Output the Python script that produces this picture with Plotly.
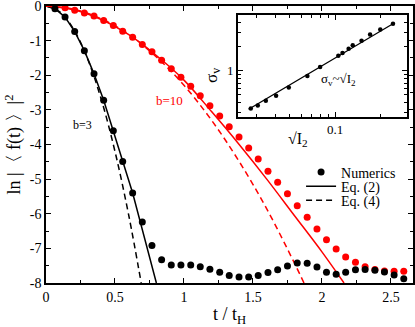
import plotly.graph_objects as go

# main panel: numerics for b=3 (black) and b=10 (red)
t_num = [0.065, 0.138, 0.208, 0.278, 0.348, 0.418, 0.488, 0.556, 0.628, 0.698,
         0.768, 0.838, 0.908, 0.978, 1.049, 1.118, 1.188, 1.259, 1.328, 1.399,
         1.469, 1.538, 1.609, 1.679, 1.750, 1.821, 1.893, 1.964, 2.033, 2.103,
         2.172, 2.243, 2.313, 2.384, 2.453, 2.523, 2.593]
b3_num = [-0.08, -0.32, -0.74, -1.29, -1.96, -2.72, -3.60, -4.49, -5.40, -6.24,
          -6.92, -7.33, -7.48, -7.48, -7.48, -7.53, -7.60, -7.69, -7.78, -7.83,
          -7.83, -7.78, -7.70, -7.62, -7.51, -7.42, -7.43, -7.54, -7.69, -7.75,
          -7.69, -7.62, -7.61, -7.63, -7.68, -7.77, -7.88]
b10_num = [0.01, -0.05, -0.12, -0.20, -0.29, -0.42, -0.56, -0.73, -0.90, -1.11,
           -1.32, -1.57, -1.81, -2.06, -2.32, -2.59, -2.88, -3.18, -3.49, -3.78,
           -4.10, -4.42, -4.77, -5.09, -5.42, -5.77, -6.10, -6.44, -6.75, -7.02,
           -7.25, -7.40, -7.53, -7.61, -7.65, -7.66, -7.66]

# Eq. (2) and Eq. (4) curves
t_b3_eq2 = [0, 0.065, 0.138, 0.208, 0.278, 0.348, 0.418, 0.488, 0.556, 0.628, 0.80]
y_b3_eq2 = [0, -0.08, -0.32, -0.74, -1.29, -1.96, -2.72, -3.60, -4.49, -5.40, -8.0]
t_b3_eq4 = [0, 0.1, 0.2, 0.3, 0.4, 0.5, 0.6, 0.69]
y_b3_eq4 = [0, -0.17, -0.67, -1.51, -2.69, -4.2, -6.05, -8.0]
t_b10_eq2 = [0, 0.2, 0.4, 0.6, 0.8, 1.0, 1.2, 1.4, 1.6, 1.8, 2.0, 2.16]
y_b10_eq2 = [0, -0.11, -0.39, -0.83, -1.43, -2.14, -3.05, -4.0, -5.0, -6.05, -7.1, -8.0]
t_b10_eq4 = [0, 0.2, 0.4, 0.6, 0.8, 1.0, 1.2, 1.4, 1.6, 1.8, 1.87]
y_b10_eq4 = [0, -0.09, -0.37, -0.82, -1.47, -2.29, -3.30, -4.49, -5.86, -7.42, -8.0]

x_ticks = [0, 0.5, 1, 1.5, 2, 2.5]
x_ticktext = ["0", "0.5", "1", "1.5", "2", "2.5"]
y_ticks = [0, -1, -2, -3, -4, -5, -6, -7, -8]
y_ticktext = ["0", "-1", "-2", "-3", "-4", "-5", "-6", "-7", "-8"]

# inset: sigma_v vs sqrt(I2)
sqrt_i2 = [0.0274, 0.0305, 0.0345, 0.0404, 0.0491, 0.0653, 0.0794, 0.105,
           0.112, 0.123, 0.131, 0.150, 0.171, 0.200, 0.243]
sigma_v = [0.338, 0.368, 0.422, 0.487, 0.618, 0.859, 1.11, 1.53,
           1.66, 1.87, 2.07, 2.35, 2.82, 3.25, 3.84]
fit_x = [0.0265, 0.243]
fit_y = [0.33, 3.84]

FONT = "Liberation Serif, Times New Roman, serif"
RED = "#ff0000"

fig = go.Figure()

# curves
fig.add_trace(go.Scatter(x=t_b3_eq2, y=y_b3_eq2, mode="lines", line=dict(color="black", width=1.5),
                         showlegend=False))
fig.add_trace(go.Scatter(x=t_b3_eq4, y=y_b3_eq4, mode="lines", line=dict(color="black", width=1.5, dash="6px,4px"),
                         line_shape="spline", showlegend=False))
fig.add_trace(go.Scatter(x=t_b10_eq2, y=y_b10_eq2, mode="lines", line=dict(color=RED, width=1.5),
                         line_shape="spline", showlegend=False))
fig.add_trace(go.Scatter(x=t_b10_eq4, y=y_b10_eq4, mode="lines", line=dict(color=RED, width=1.5, dash="6px,4px"),
                         line_shape="spline", showlegend=False))
fig.add_trace(go.Scatter(x=t_num, y=b10_num, mode="markers", marker=dict(color=RED, size=7),
                         cliponaxis=False, showlegend=False))
fig.add_trace(go.Scatter(x=t_num, y=b3_num, mode="markers", marker=dict(color="black", size=7),
                         cliponaxis=False, showlegend=False))

# legend entries (black samples)
fig.add_trace(go.Scatter(x=[None], y=[None], mode="markers", marker=dict(color="black", size=7),
                         name="Numerics", legend="legend"))
fig.add_trace(go.Scatter(x=[None], y=[None], mode="lines", line=dict(color="black", width=1.5),
                         name="Eq. (2)", legend="legend2"))
fig.add_trace(go.Scatter(x=[None], y=[None], mode="lines", line=dict(color="black", width=1.5, dash="6px,4px"),
                         name="Eq. (4)", legend="legend3"))

# inset
fig.add_trace(go.Scatter(x=fit_x, y=fit_y, mode="lines", line=dict(color="black", width=1.3),
                         xaxis="x2", yaxis="y2", showlegend=False))
fig.add_trace(go.Scatter(x=sqrt_i2, y=sigma_v, mode="markers", marker=dict(color="black", size=4.5),
                         xaxis="x2", yaxis="y2", showlegend=False))

axis_common = dict(showline=True, linecolor="black", linewidth=1.5, mirror="ticks",
                   ticks="inside", tickcolor="black", tickwidth=1.2, showgrid=False, zeroline=False,
                   automargin=False, ticklabeloverflow="allow")

legend_common = dict(xanchor="left", yanchor="middle", bgcolor="rgba(0,0,0,0)",
                     font=dict(family=FONT, size=14, color="black"), itemwidth=30)

fig.update_layout(
    width=415, height=327,
    margin=dict(l=46, r=2, t=6, b=44, autoexpand=False),
    paper_bgcolor="white", plot_bgcolor="white",
    font=dict(family=FONT, size=14, color="black"),
    xaxis=dict(range=[0, 2.66], tickvals=x_ticks, ticktext=x_ticktext, ticklen=5,
               minor=dict(dtick=0.25, tick0=0, ticks="inside", ticklen=3, tickcolor="black", tickwidth=1.2),
               title=dict(text="t / t<sub>H</sub>", font=dict(size=18), standoff=0),
               **axis_common),
    yaxis=dict(range=[-8, 0], tickvals=y_ticks, ticktext=y_ticktext, ticklen=5,
               minor=dict(dtick=0.5, tick0=0, ticks="inside", ticklen=3, tickcolor="black", tickwidth=1.2),
               title=dict(text="ln |〈 f(t) 〉|<sup>2</sup>", font=dict(size=18), standoff=4),
               **axis_common),
    xaxis2=dict(type="log", domain=[0.523, 0.984], anchor="y2",
                range=[-1.648, -0.52], tickvals=[0.1], ticktext=["0.1"], ticklen=5,
                minor=dict(tickvals=[0.03, 0.04, 0.05, 0.06, 0.07, 0.08, 0.09, 0.2, 0.3],
                           ticks="inside", ticklen=3, tickcolor="black", tickwidth=1),
                tickfont=dict(size=13), **axis_common),
    yaxis2=dict(type="log", domain=[0.600, 0.966], anchor="x2",
                range=[-0.575, 0.6875], tickvals=[1], ticktext=["1"], ticklen=5,
                minor=dict(tickvals=[0.3, 0.4, 0.5, 0.6, 0.7, 0.8, 0.9, 2, 3, 4],
                           ticks="inside", ticklen=3, tickcolor="black", tickwidth=1),
                tickfont=dict(size=13), **axis_common),
    legend=dict(x=0.695, y=0.399, **legend_common),
    legend2=dict(x=0.695, y=0.348, **legend_common),
    legend3=dict(x=0.695, y=0.297, **legend_common),
    annotations=[
        dict(x=0.268, y=-3.45, xref="x", yref="y", text="b=3", showarrow=False,
             font=dict(size=12, color="black")),
        dict(x=0.895, y=-2.73, xref="x", yref="y", text="b=10", showarrow=False,
             font=dict(size=13, color=RED)),
        dict(x=0.71, y=0.26, xref="x2 domain", yref="y2 domain", text="σ<sub>v</sub>~√I<sub>2</sub>",
             showarrow=False, font=dict(size=13)),
        dict(x=0.72, y=0.517, xref="paper", yref="paper", text="√I<sub>2</sub>",
             showarrow=False, font=dict(size=16)),
        dict(x=0.455, y=0.785, xref="paper", yref="paper", text="σ<sub>v</sub>",
             showarrow=False, textangle=-90, font=dict(size=17)),
    ],
)

# page body has an 8px default margin; drop it so the figure fills the window
fig.write_html("out.html", config={"displayModeBar": False},
               post_script="document.body.style.margin='0px';")
